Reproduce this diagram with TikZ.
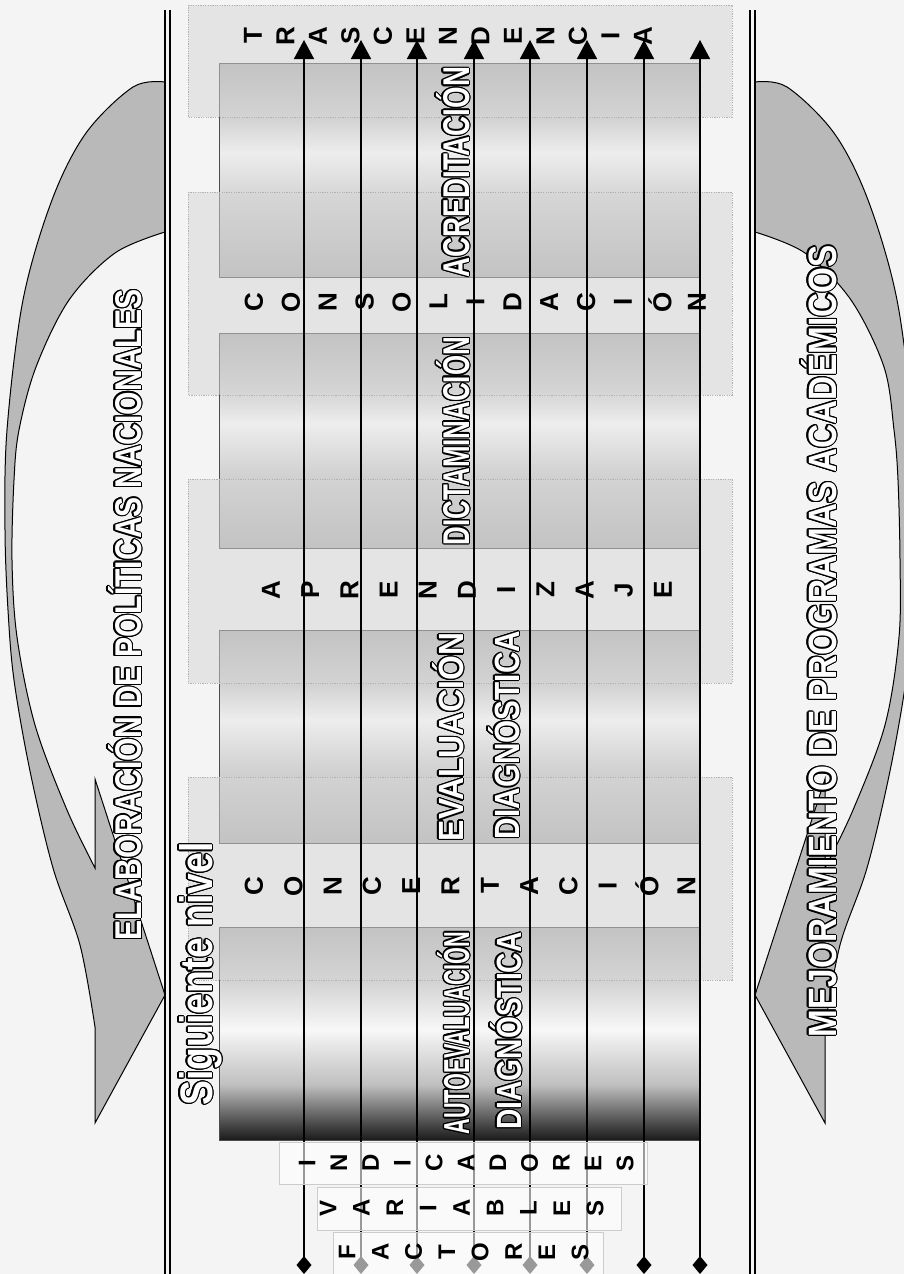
\documentclass[tikz,border=0pt]{standalone}
\usepackage{fontspec}
\setmainfont{Liberation Sans}
\usepackage{graphicx}
\usepackage{contour}
\contourlength{1.2pt}
\usetikzlibrary{arrows.meta}

\pgfdeclareverticalshading{boxA}{100bp}{color(0bp)=(gray!62); color(25bp)=(gray!62); color(42bp)=(gray!36); color(54bp)=(gray!14); color(64bp)=(gray!40); color(75bp)=(gray!62); color(100bp)=(gray!62)}
\pgfdeclareverticalshading{boxB}{100bp}{color(0bp)=(black!90); color(25bp)=(black!90); color(38bp)=(gray!50); color(51bp)=(gray!6); color(62bp)=(gray!34); color(75bp)=(gray!62); color(100bp)=(gray!62)}

\tikzset{
  bg/.style={fill=gray!9},
  frameline/.style={line width=1.2pt, draw=black},
  band/.style={fill=gray!55, draw=black, line width=1pt, line join=miter},
  darkbox/.style={shading=boxA, draw=black!70, line width=0.7pt},
  darkboxlast/.style={shading=boxB, draw=black!70, line width=0.7pt},
  stagebox/.style={fill=gray!32, fill opacity=0.5, draw=gray!60, dash pattern=on 1.2pt off 1.2pt, line width=1pt},
  flow/.style={line width=1.6pt, draw=black, {Diamond[length=18pt,width=15pt]}-{Triangle[length=19pt,width=20pt]}},
  tagbox/.style={fill=white, fill opacity=0.6, draw=gray!40, line width=0.8pt},
  letter/.style={rotate=90, inner sep=0pt, font=\fontsize{26}{26}\selectfont\bfseries},
  tagletter/.style={rotate=90, inner sep=0pt, font=\fontsize{24}{24}\selectfont\bfseries},
  bigtext/.style={rotate=90, anchor=base, inner sep=0pt, font=\bfseries, text=white}
}

\newcommand\letterrow[6]{%
  \foreach \ch [count=\k] in {#6}{\node[#1] (#2\k) at ({#4+(\k-1)*#5},#3) {\ch};}}

\begin{document}
\begin{tikzpicture}[x=1pt,y=-1pt]
\useasboundingbox (0,0) rectangle (904,1274);
\clip (0,0) rectangle (904,1274);
\fill[bg] (0,0) rectangle (904,1274);

% curved arrows
\draw[band] plot[smooth, tension=0.55] coordinates {(165,82) (133,87) (86,133) (52,200) (23,300) (7,430) (5,530) (8,610) (14,680) (30,771) (53,868) (80,945) (95,1027)}
  -- (95,1123) -- (165,995) -- (95,779) -- (95,868)
  -- plot[smooth, tension=0.55] coordinates {(95,868) (67,810) (35,725) (17,637) (12,560) (14,480) (19,430) (36,367) (69,300) (115,253) (165,232)} -- cycle;
\draw[band] plot[smooth, tension=0.55] coordinates {(755,82) (787,87) (834,133) (868,200) (897,300) (913,430) (915,530) (912,610) (906,680) (890,771) (867,868) (840,945) (825,1027)}
  -- (825,1123) -- (755,995) -- (825,779) -- (825,868)
  -- plot[smooth, tension=0.55] coordinates {(825,868) (853,810) (885,725) (899,637) (900,560) (898,480) (894,430) (884,367) (851,300) (805,253) (755,232)} -- cycle;

% frame lines
\foreach \fx/\nm in {165/la,170/lb,750/ra,755/rb}{
  \coordinate (\nm t) at (\fx,10); \coordinate (\nm b) at (\fx,1274);
  \draw[frameline] (\nm t) -- (\nm b);}

% dark boxes
\shade[darkbox] (219,63) rectangle (699,277);
\shade[darkbox] (219,333) rectangle (699,548);
\shade[darkbox] (219,630) rectangle (699,843);
\shade[darkboxlast] (219,927) rectangle (699,1140);

% stage boxes
\path[stagebox] (188,5) rectangle (732,117);
\path[stagebox] (188,192) rectangle (732,395);
\path[stagebox] (188,479) rectangle (732,683);
\path[stagebox] (188,777) rectangle (732,980);

% flow lines
\foreach \i/\fx in {1/304,2/361,3/417,4/474,5/530,6/587,7/644,8/700}{
  \coordinate (fs\i) at (\fx,1274); \coordinate (fe\i) at (\fx,40);
  \draw[flow] (fs\i) -- (fe\i);}

% stacked letters
\letterrow{letter}{tr}{36}{253}{32.5}{T,R,A,S,C,E,N,D,E,N,C,I,A}
\letterrow{letter}{co}{302}{254}{36.9}{C,O,N,S,O,L,I,D,A,C,I,Ó,N}
\letterrow{letter}{ap}{590}{271}{39.2}{A,P,R,E,N,D,I,Z,A,J,E}
\letterrow{letter}{cc}{886}{254}{39.3}{C,O,N,C,E,R,T,A,C,I,Ó,N}

% big outlined texts
\node[bigtext] (acr) at (469,172) {\contour{black}{\resizebox{210pt}{33pt}{ACREDITACIÓN}}};
\node[bigtext] (dic) at (469,441) {\contour{black}{\resizebox{208pt}{33pt}{DICTAMINACIÓN}}};
\node[bigtext] (eva) at (463,737) {\contour{black}{\resizebox{208pt}{31pt}{EVALUACIÓN}}};
\node[bigtext] (diaa) at (519,735) {\contour{black}{\resizebox{208pt}{31pt}{DIAGNÓSTICA}}};
\node[bigtext] (aut) at (469,1033) {\contour{black}{\resizebox{203pt}{32pt}{AUTOEVALUACIÓN}}};
\node[bigtext] (diab) at (521,1031) {\contour{black}{\resizebox{197pt}{31pt}{DIAGNÓSTICA}}};
\node[bigtext] (ela) at (141,615) {\contour{black}{\resizebox{651pt}{33pt}{ELABORACIÓN DE POLÍTICAS NACIONALES}}};
\node[bigtext] (mej) at (836,641) {\contour{black}{\resizebox{792pt}{35pt}{MEJORAMIENTO DE PROGRAMAS ACADÉMICOS}}};
\node[bigtext] (sig) at (212,974) {\contour{black}{\resizebox{263pt}{33pt}{Siguiente nivel}}};

% tag boxes
\path[tagbox] (279,1142) rectangle (647,1184);
\path[tagbox] (317,1187) rectangle (621,1230);
\path[tagbox] (333,1232) rectangle (603,1280);
\letterrow{tagletter}{in}{1163}{307}{31.8}{I,N,D,I,C,A,D,O,R,E,S}
\letterrow{tagletter}{va}{1208}{328}{33.4}{V,A,R,I,A,B,L,E,S}
\letterrow{tagletter}{fa}{1252}{347}{33.3}{F,A,C,T,O,R,E,S}
\end{tikzpicture}
\end{document}
